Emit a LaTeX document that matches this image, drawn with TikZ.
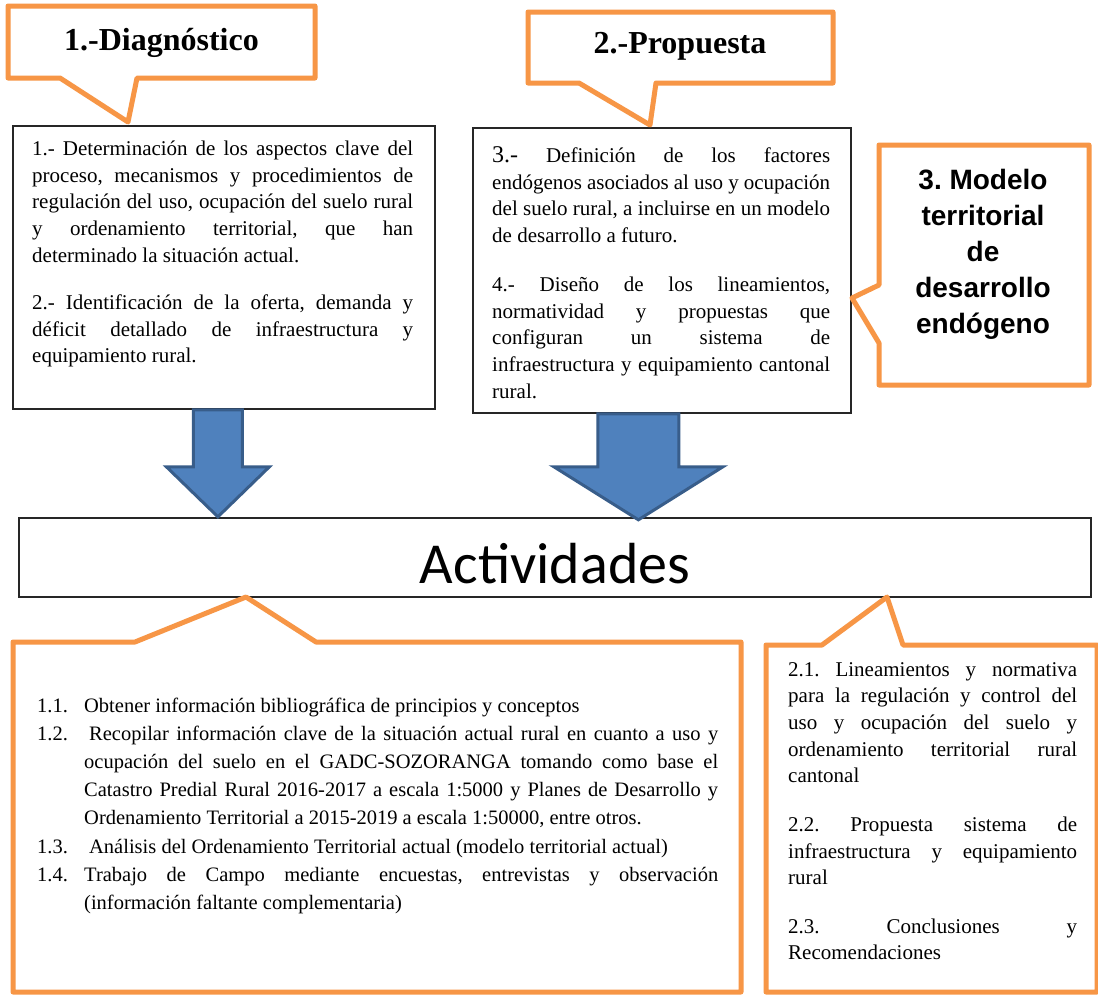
\documentclass[tikz,border=0pt]{standalone}
\usepackage{fontspec}
\setmainfont{Liberation Serif}
\newfontfamily\arialfont{Liberation Sans}
\newfontfamily\calibrifont{Carlito}
\usetikzlibrary{calc}
\setlength{\parindent}{0pt}
\tolerance=10000
\hbadness=10000
\hyphenpenalty=10000
\exhyphenpenalty=10000
\frenchspacing
\definecolor{calloutorange}{HTML}{F79646}
\definecolor{arrowblue}{HTML}{4F81BD}
\definecolor{arrowedge}{HTML}{385D8A}
\tikzset{
  callout/.style={draw=calloutorange, line width=5pt, line join=round, fill=white},
  box/.style={draw=black!85, line width=1.8pt, fill=white, inner sep=0pt},
  blockarrow/.style={fill=arrowblue, draw=arrowedge, line width=3pt},
  body/.style={inner sep=0pt, anchor=north west, align=justify, font=\fontsize{21}{26.7}\selectfont},
  title/.style={inner sep=0pt, anchor=base, font=\bfseries\fontsize{32}{38}\selectfont},
}

\begin{document}
\begin{tikzpicture}[x=1pt,y=-1pt]
\fill[white] (0,0) rectangle (1098,994);
\useasboundingbox (0,0) rectangle (1098,994);

\node[box, minimum width=422pt, minimum height=283pt, anchor=north west] (diag) at (12,125) {};
\node[box, minimum width=378pt, minimum height=285pt, anchor=north west] (prop) at (472,127) {};
\node[box, minimum width=1072pt, minimum height=79pt, anchor=north west] (acts) at (18,517) {};

\draw[callout] (8,6) -- (315,6) -- (315,78) -- (137,78) -- (128,122) -- (60,78) -- (8,78) -- cycle;
\draw[callout] (528,12) -- (833,12) -- (833,83) -- (656,83) -- (650,125) -- (579,83) -- (528,83) -- cycle;
\draw[callout] (879,145) -- (1089,145) -- (1089,385) -- (879,385) -- (879,343) -- (852,298) -- (879,285) -- cycle;
\draw[callout] (13,642) -- (135,642) -- (246,597) -- (316,642) -- (741,642) -- (741,992) -- (13,992) -- cycle;
\draw[callout] (766,645) -- (822,645) -- (887,597) -- (903,645) -- (1097,645) -- (1097,992) -- (766,992) -- cycle;

\foreach \src/\dx/\hs/\hh/\sh/\len in {diag/-6/24.5/51.5/57/107, prop/-23.5/40.5/84.5/53/106}{
  \coordinate (top) at ($(\src.south)+(\dx,0)$);
  \draw[blockarrow] ($(top)+(-\hs,0)$) -- ($(top)+(-\hs,\sh)$) -- ($(top)+(-\hh,\sh)$)
    -- ($(top)+(0,\len)$) -- ($(top)+(\hh,\sh)$) -- ($(top)+(\hs,\sh)$) -- ($(top)+(\hs,0)$) -- cycle;
}

\node[title] (diagtitle) at (161.5,50) {1.-Diagnóstico};
\node[title] (proptitle) at (680,53) {2.-Propuesta};
\node[inner sep=0pt, anchor=north, align=center, font=\arialfont\bfseries\fontsize{28}{36}\selectfont] (modelo) at (983,169)
  {3. Modelo\\territorial\\de\\desarrollo\\endógeno};
\node[inner sep=0pt, anchor=base, font=\calibrifont\fontsize{58}{64}\selectfont] (actstitle) at (555,583) {Actividades};

\node[body, text width=381pt] (diagtext) at (32,140.5) {%
1.- Determinación de los aspectos clave del\linebreak
proceso, mecanismos y procedimientos de\linebreak
regulación del uso, ocupación del suelo rural\linebreak
y ordenamiento territorial, que han\linebreak
determinado la situación actual.\par\vspace{20.5pt}
2.- Identificación de la oferta, demanda y\linebreak
déficit detallado de infraestructura y\linebreak
equipamiento rural.\par};

\node[body, text width=338pt] (proptext) at (492,146.5) {%
{\fontsize{24}{26.7}\selectfont 3.-} Definición de los factores\linebreak
endógenos asociados al uso y ocupación\linebreak
del suelo rural, a incluirse en un modelo\linebreak
de desarrollo a futuro.\par\vspace{22pt}
4.- Diseño de los lineamientos,\linebreak
normatividad y propuestas que\linebreak
configuran un sistema de\linebreak
infraestructura y equipamiento cantonal\linebreak
rural.\par};

\node[body, text width=681pt, font=\fontsize{20.5}{28.2}\selectfont] (actstext) at (37,697.5) {%
\hangindent=47pt\hangafter=1\makebox[47pt][l]{1.1.}Obtener información bibliográfica de principios y conceptos\par
\hangindent=47pt\hangafter=1\makebox[52pt][l]{1.2.}Recopilar información clave de la situación actual rural en cuanto a uso y\linebreak
ocupación del suelo en el GADC-SOZORANGA tomando como base el\linebreak
Catastro Predial Rural 2016-2017 a escala 1:5000 y Planes de Desarrollo y\linebreak
Ordenamiento Territorial a 2015-2019 a escala 1:50000, entre otros.\par
\hangindent=47pt\hangafter=1\makebox[52pt][l]{1.3.}Análisis del Ordenamiento Territorial actual (modelo territorial actual)\par
\hangindent=47pt\hangafter=1\makebox[47pt][l]{1.4.}Trabajo de Campo mediante encuestas, entrevistas y observación\linebreak
(información faltante complementaria)\par};

\node[body, text width=289pt] (conctext) at (788,662) {%
2.1. Lineamientos y normativa\linebreak
para la regulación y control del\linebreak
uso y ocupación del suelo y\linebreak
ordenamiento territorial rural\linebreak
cantonal\par\vspace{21.7pt}
2.2. Propuesta sistema de\linebreak
infraestructura y equipamiento\linebreak
rural\par\vspace{21.7pt}
2.3. Conclusiones y\linebreak
Recomendaciones\par};
\end{tikzpicture}
\end{document}
